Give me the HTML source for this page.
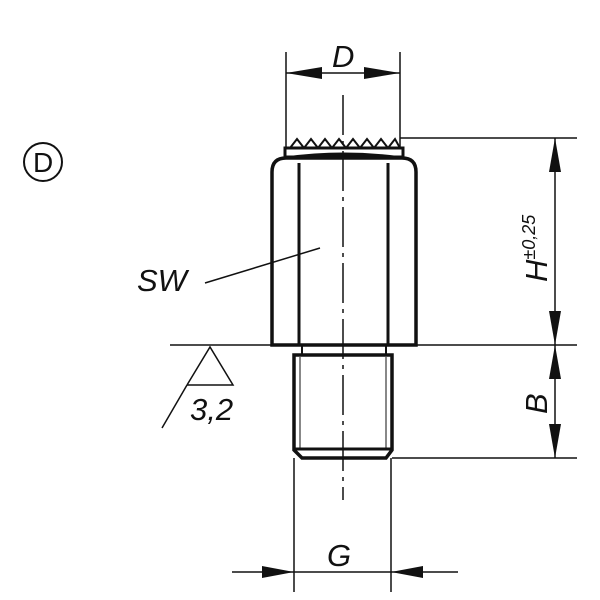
<!DOCTYPE html>
<html><head><style>body{margin:0;background:#fff}svg{display:block}text{font-family:"Liberation Sans",sans-serif;font-style:italic;fill:#111}</style></head><body>
<svg width="600" height="600" viewBox="0 0 600 600" xmlns="http://www.w3.org/2000/svg">
<g fill="none" stroke="#111">
<circle cx="43" cy="162" r="19" stroke-width="2"/>
<line x1="343" y1="95" x2="343" y2="500" stroke-width="1.5" stroke-dasharray="40,6,4,6"/>
<polyline points="290,148 297,139 304,148 311,139 318,148 325,139 332,148 339,139 346,148 353,139 360,148 367,139 374,148 381,139 388,148 395,139 400,148" stroke-width="2"/>
<rect x="285" y="148" width="118" height="9" stroke-width="3"/>
<path d="M272,345 V172 Q272,158 286,158 H402 Q416,158 416,172 V345 Z" stroke-width="3.5"/>
<line x1="299" y1="163" x2="299" y2="345" stroke-width="3"/>
<line x1="388" y1="163" x2="388" y2="345" stroke-width="3"/>
<path d="M286,158 Q343,150 402,158" stroke-width="3"/>
<rect x="302" y="345" width="84" height="10" stroke-width="2"/>
<path d="M294,355 H392 V450 L386,458 H302 L294,450 Z" stroke-width="3.5"/>
<line x1="294" y1="449" x2="392" y2="449" stroke-width="3"/>
<line x1="300" y1="357" x2="300" y2="449" stroke-width="1"/>
<line x1="386" y1="357" x2="386" y2="449" stroke-width="1"/>
<line x1="286" y1="52" x2="286" y2="148" stroke-width="1.5"/>
<line x1="400" y1="52" x2="400" y2="148" stroke-width="1.5"/>
<line x1="286" y1="73" x2="400" y2="73" stroke-width="1.5"/>
<line x1="400" y1="138" x2="577" y2="138" stroke-width="1.5"/>
<line x1="416" y1="345" x2="577" y2="345" stroke-width="1.5"/>
<line x1="392" y1="458" x2="577" y2="458" stroke-width="1.5"/>
<line x1="555" y1="138" x2="555" y2="458" stroke-width="1.5"/>
<line x1="294" y1="458" x2="294" y2="592" stroke-width="1.5"/>
<line x1="391" y1="458" x2="391" y2="592" stroke-width="1.5"/>
<line x1="232" y1="572" x2="458" y2="572" stroke-width="1.5"/>
<line x1="170" y1="345" x2="272" y2="345" stroke-width="1.5"/>
<polyline points="187,385 210,347 233,385 187,385" stroke-width="1.5"/>
<line x1="162" y1="428" x2="187" y2="385" stroke-width="1.5"/>
<line x1="205" y1="283" x2="320" y2="248" stroke-width="1.5"/>
</g>
<g fill="#111">
<polygon points="286,73 322,67 322,79"/>
<polygon points="400,73 364,67 364,79"/>
<polygon points="555,138 549,172 561,172"/>
<polygon points="555,345 549,311 561,311"/>
<polygon points="555,345 549,379 561,379"/>
<polygon points="555,458 549,424 561,424"/>
<polygon points="294,572 262,566 262,578"/>
<polygon points="391,572 423,566 423,578"/>
</g>
<text x="33" y="172" font-size="28" style="font-style:normal">D</text>
<text x="332" y="67" font-size="31">D</text>
<text x="327" y="566" font-size="31">G</text>
<text x="137" y="291" font-size="31">SW</text>
<text x="190" y="420" font-size="31">3,2</text>
<text transform="translate(547,282) rotate(-90)" font-size="31">H<tspan font-size="18" dy="-12">±0,25</tspan></text>
<text transform="translate(547,414) rotate(-90)" font-size="31">B</text>
</svg>
</body></html>
